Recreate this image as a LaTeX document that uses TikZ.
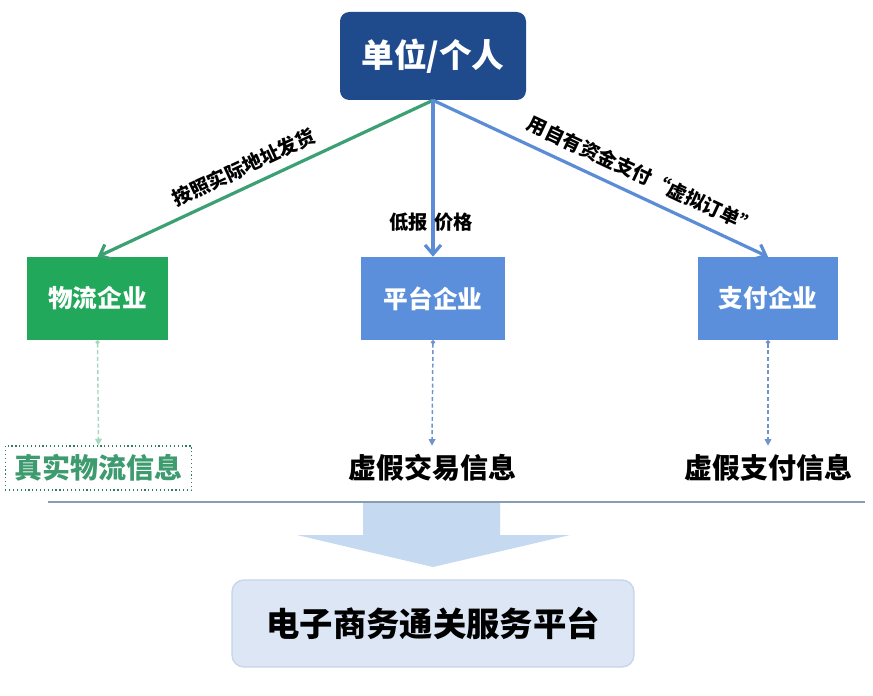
\documentclass[tikz,border=0pt]{standalone}
\usepackage{fontspec}
\setmainfont{Noto Sans CJK SC}
\usetikzlibrary{arrows.meta}
\definecolor{topblue}{HTML}{1F4A8C}
\definecolor{boxgreen}{HTML}{22A85A}
\definecolor{boxblue}{HTML}{5B8FDB}
\definecolor{arrgreen}{HTML}{3BA074}
\definecolor{arrblue}{HTML}{5B8DD6}
\definecolor{dashgreen}{HTML}{A6D8BE}
\definecolor{dashblue}{HTML}{6E93CF}
\definecolor{txtgreen}{HTML}{3E9B6F}
\definecolor{bigarrow}{HTML}{C5D9F1}
\definecolor{platfill}{HTML}{DCE6F4}
\definecolor{platdraw}{HTML}{C6D5EA}
\definecolor{rulecol}{HTML}{8A9CB0}
\tikzset{
  topbox/.style={fill=topblue, rounded corners=7pt, minimum width=139.5pt, minimum height=66pt, text=white, font=\bfseries\fontsize{24.5}{28}\selectfont},
  entbox/.style={minimum width=#1, minimum height=62.25pt, text=white, font=\bfseries\fontsize{18.5}{22}\selectfont},
  infonode/.style={minimum width=140pt, minimum height=33pt, font=\bfseries\fontsize{21}{24}\selectfont},
  mainarrow/.style={line width=2.4pt, -{Straight Barb[length=7pt,width=12pt,line width=2.4pt]}},
  dasharrow/.style={line width=1.1pt, dashed, dash pattern=on 3pt off 2pt, {Circle[length=3pt]}-{Triangle[length=5pt,width=5pt]}},
  edgelabel/.style={font=\bfseries\fontsize{14.5}{16}\selectfont, text=black},
}
\begin{document}
\begin{tikzpicture}[x=0.75pt,y=-0.75pt]
\useasboundingbox (0,0) rectangle (873,695);
\fill[white] (0,0) rectangle (873,695);

\node[topbox] (top) at (433,56) {单位/个人};
\node[entbox=105.75pt, fill=boxgreen] (lbox) at (97.5,298.5) {物流企业};
\node[entbox=108pt, fill=boxblue] (mbox) at (433,298.5) {平台企业};
\node[entbox=105pt, fill=boxblue] (rbox) at (768,298.5) {支付企业};

\node[infonode, draw=txtgreen!80!black, dotted, line width=0.9pt, text=txtgreen] (t1) at (98.5,468) {真实物流信息};
\node[infonode, text=black] (t2) at (432,468) {虚假交易信息};
\node[infonode, text=black] (t3) at (768,468) {虚假支付信息};

\draw[mainarrow, arrgreen] (top.south) -- (lbox.north)
  node[pos=0.54, sloped, above=3pt, edgelabel] {按照实际地址发货};
\draw[mainarrow, arrblue] (top.south) -- (mbox.north);
\draw[mainarrow, arrblue] (top.south) -- (rbox.north)
  node[pos=0.6, sloped, above=4pt, edgelabel] {用自有资金支付“虚拟订单”};
\node[edgelabel] (lbl) at (431,222) {低报\hspace{5pt}价格};

\draw[dasharrow, dashgreen] (lbox.south) -- (t1.north);
\draw[dasharrow, dashblue] (mbox.south) -- (t2.north);
\draw[dasharrow, dashblue] (rbox.south) -- (t3.north);

\coordinate (ruleL) at (48,502);
\coordinate (ruleR) at (865,502);
\draw[rulecol, line width=0.8pt] (ruleL) -- (ruleR);

\fill[bigarrow] (363,503) -- (500,503) -- (500,535) -- (570,535) -- (433,567) -- (297,535) -- (363,535) -- cycle;

\node[fill=platfill, draw=platdraw, line width=1pt, rounded corners=9pt, minimum width=301.5pt, minimum height=65.25pt, font=\bfseries\fontsize{25}{28}\selectfont] (plat) at (433,623.5) {电子商务通关服务平台};
\end{tikzpicture}
\end{document}
